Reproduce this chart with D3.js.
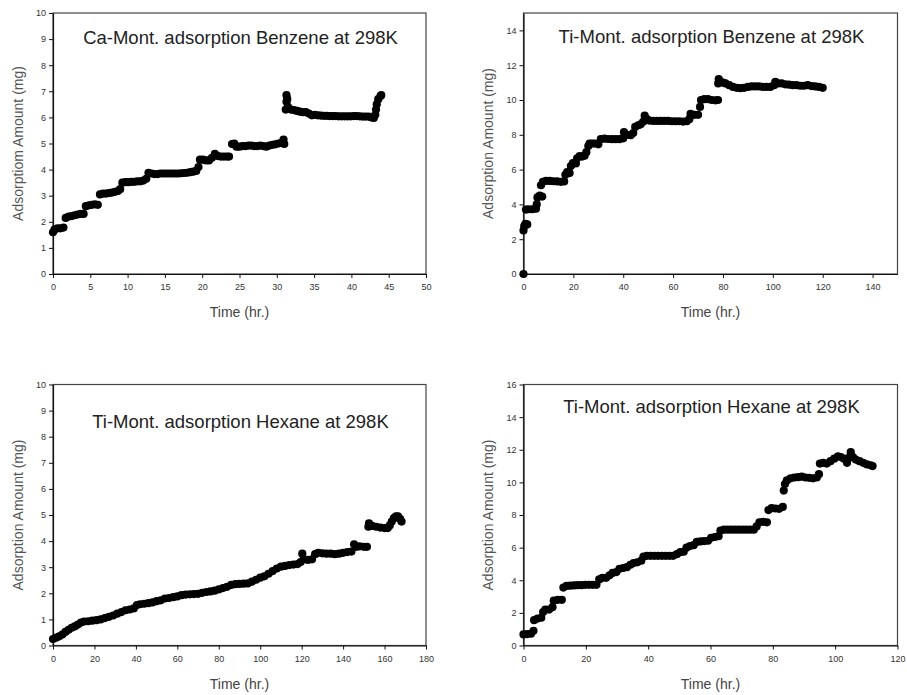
<!DOCTYPE html>
<html>
<head>
<meta charset="utf-8">
<script src="https://cdn.jsdelivr.net/npm/d3@7"></script>
<style>
  body { margin: 0; background: #fff; }
  svg { display: block; font-family: "Liberation Sans", Arial, sans-serif; }
</style>
</head>
<body>
<svg id="chart" width="907" height="695"></svg>
<script>
// [time (hr), amount (mg)]
const caBenzene = [
  [0,1.6],[0.2,1.7],[0.6,1.75],[1.0,1.75],[1.4,1.78],[1.7,2.15],[2.1,2.2],[2.5,2.22],[2.9,2.25],[3.3,2.28],
  [3.7,2.3],[4.1,2.3],[4.4,2.6],[4.8,2.63],[5.2,2.65],[5.6,2.67],[6.0,2.65],[6.3,3.05],[6.7,3.08],[7.1,3.08],
  [7.5,3.1],[7.9,3.12],[8.3,3.15],[8.7,3.18],[9.0,3.25],[9.3,3.5],[9.7,3.52],[10.1,3.52],[10.5,3.53],[10.9,3.53],
  [11.3,3.55],[11.7,3.55],[12.1,3.58],[12.5,3.65],[12.8,3.88],[13.2,3.85],[13.6,3.83],[14.0,3.83],[14.4,3.85],[14.8,3.85],
  [15.2,3.85],[15.6,3.85],[16.0,3.85],[16.4,3.85],[16.8,3.85],[17.2,3.86],[17.6,3.87],[18.0,3.88],[18.4,3.9],[18.8,3.92],
  [19.2,3.95],[19.5,4.1],[19.7,4.38],[20.1,4.38],[20.5,4.35],[20.9,4.35],[21.3,4.45],[21.7,4.6],[22.1,4.52],[22.5,4.5],
  [22.9,4.5],[23.3,4.5],[23.6,4.5],[24.0,4.98],[24.3,5.0],[24.6,4.88],[25.0,4.88],[25.4,4.9],[25.8,4.9],[26.2,4.92],
  [26.6,4.92],[27.0,4.9],[27.4,4.9],[27.8,4.92],[28.2,4.9],[28.6,4.88],[29.0,4.92],[29.4,4.95],[29.8,4.97],[30.2,5.0],
  [30.6,5.02],[30.9,5.15],[31.0,4.98],[31.2,6.3],[31.3,6.6],[31.3,6.85],[31.4,6.7],[31.5,6.4],[31.9,6.3],[32.3,6.28],
  [32.7,6.25],[33.1,6.22],[33.5,6.2],[33.9,6.2],[34.3,6.15],[34.7,6.08],[35.1,6.1],[35.5,6.08],[35.9,6.07],[36.3,6.06],
  [36.7,6.06],[37.1,6.05],[37.5,6.05],[37.9,6.05],[38.3,6.04],[38.7,6.04],[39.1,6.04],[39.5,6.04],[39.9,6.04],[40.3,6.05],
  [40.7,6.05],[41.1,6.04],[41.5,6.03],[41.9,6.03],[42.3,6.03],[42.7,6.0],[43.0,5.98],[43.2,6.1],[43.3,6.3],[43.4,6.5],
  [43.6,6.7],[43.9,6.82],[44.0,6.85]
];

const tiBenzene = [
  [0,0],[0,2.5],[0.3,2.75],[0.8,2.88],[1.5,2.85],[1.0,3.7],[2,3.72],[3.5,3.72],[5,3.75],[5.3,4.0],
  [5.6,4.4],[6.5,4.5],[7.5,4.45],[7,5.1],[7.8,5.3],[9,5.35],[10.5,5.35],[12,5.33],[13.5,5.32],[15,5.3],
  [16.3,5.32],[16.8,5.7],[17.5,5.85],[18.5,5.8],[19,6.2],[19.8,6.38],[21,6.35],[21.5,6.65],[22.5,6.78],[23.5,6.75],
  [24.5,6.8],[25.2,7.0],[26,7.35],[26.5,7.5],[27.5,7.5],[28.5,7.5],[30,7.45],[31,7.75],[32.5,7.78],[34,7.76],
  [35.5,7.75],[37,7.75],[38.5,7.75],[40,7.8],[40.3,8.15],[41.5,8.0],[43,7.98],[44,8.1],[44.8,8.45],[46,8.55],
  [47,8.6],[48,8.75],[48.6,9.1],[49.5,8.9],[50.5,8.82],[52,8.8],[53.5,8.8],[55,8.8],[56.5,8.8],[58,8.8],
  [59.5,8.78],[61,8.78],[62.5,8.78],[64,8.76],[65.5,8.78],[66.5,8.9],[67,9.2],[68.5,9.15],[70,9.15],[70.8,9.6],
  [71.2,10.0],[72.5,10.05],[74,10.05],[75.5,10.0],[77,9.98],[78,10.0],[78.1,10.95],[78.3,11.2],[79,11.05],[80,11.0],
  [81,10.95],[82.5,10.85],[84,10.75],[85.5,10.7],[87,10.68],[88.5,10.7],[90,10.75],[91.5,10.78],[93,10.78],[94.5,10.78],
  [96,10.75],[97.5,10.75],[99,10.75],[100.5,10.85],[101,11.05],[102,10.95],[103.5,10.95],[105,10.9],[106.5,10.88],[108,10.85],
  [109.5,10.85],[111,10.82],[112.5,10.82],[114,10.85],[115.5,10.8],[117,10.78],[118.5,10.75],[120,10.7]
];

const tiHexaneA = [
  [0,0.25],[1.5,0.3],[3,0.35],[4.5,0.42],[6,0.52],[7.5,0.6],[9,0.68],[10.5,0.73],[12,0.8],[13.5,0.88],
  [15,0.92],[17,0.93],[19,0.95],[21,0.97],[23,1.0],[25,1.05],[27,1.1],[29,1.15],[31,1.22],[33,1.28],
  [35,1.35],[37,1.38],[39,1.42],[40.5,1.55],[42,1.58],[44,1.6],[46,1.62],[48,1.65],[50,1.7],[52,1.73],
  [54,1.8],[56,1.82],[58,1.85],[60,1.88],[62,1.93],[64,1.95],[66,1.96],[68,1.97],[70,1.98],[72,2.02],
  [74,2.05],[76,2.07],[78,2.1],[80,2.15],[82,2.2],[84,2.25],[86,2.32],[88,2.35],[90,2.36],[92,2.37],
  [94,2.38],[96,2.45],[98,2.52],[100,2.6],[102,2.65],[104,2.75],[106,2.85],[108,2.95],[110,3.02],[112,3.05],
  [114,3.08],[116,3.1],[118,3.12],[119.5,3.2],[120.3,3.52],[121,3.3],[123,3.28],[125,3.3],[126.5,3.5],[128,3.55],
  [130,3.53],[132,3.52],[134,3.52],[136,3.5],[138,3.52],[140,3.55],[142,3.58],[144,3.6],[145.3,3.88],[146.5,3.78],
  [148,3.8],[150,3.78],[151.5,3.78],[152.2,4.55],[152.5,4.68],[154,4.58],[156,4.55],[158,4.52],[160,4.5],[161.5,4.5],
  [162.5,4.6],[163.5,4.75],[164.5,4.88],[165.5,4.95],[166.5,4.95],[167.5,4.85],[168.2,4.75]
];

const tiHexaneB = [
  [0,0.68],[1.2,0.7],[2.4,0.72],[3.2,0.9],[3.4,1.55],[4.5,1.65],[5.7,1.7],[6.3,2.05],[7,2.2],[8.2,2.2],
  [9.3,2.35],[9.7,2.75],[11,2.8],[12.3,2.8],[12.8,3.55],[13.8,3.65],[15,3.67],[16.2,3.68],[17.4,3.7],[18.6,3.7],
  [19.8,3.72],[21,3.72],[22.2,3.72],[23.4,3.72],[24.3,4.05],[25.3,4.15],[26.5,4.15],[27.6,4.3],[28.6,4.45],[29.8,4.5],
  [30.8,4.7],[32,4.75],[33.2,4.8],[34.3,4.95],[35.3,5.05],[36.5,5.1],[37.8,5.2],[38.5,5.45],[39.6,5.5],[40.8,5.5],
  [42,5.5],[43.2,5.5],[44.4,5.5],[45.6,5.5],[46.8,5.5],[48,5.5],[49.2,5.6],[50.3,5.72],[51.4,5.75],[52.3,6.0],
  [53.4,6.1],[54.6,6.15],[55.6,6.35],[56.8,6.38],[58,6.4],[59.2,6.42],[60.2,6.6],[61.4,6.65],[62.6,6.7],[63.2,7.05],
  [64.3,7.1],[65.5,7.1],[66.7,7.1],[67.9,7.1],[69.1,7.1],[70.3,7.1],[71.5,7.1],[72.7,7.1],[73.9,7.1],[74.8,7.3],
  [75.7,7.55],[76.9,7.58],[78.1,7.55],[78.6,8.3],[79.6,8.42],[80.8,8.4],[82,8.38],[83.2,8.5],[83.5,9.5],[83.9,9.9],
  [84.5,10.12],[85.7,10.25],[86.9,10.3],[88.1,10.32],[89.3,10.35],[90.5,10.3],[91.7,10.28],[92.9,10.25],[94.1,10.3],[94.8,10.5],
  [95.1,11.15],[96.1,11.2],[97.3,11.15],[98.5,11.3],[99.7,11.45],[100.9,11.6],[101.8,11.55],[102.8,11.45],[103.8,11.2],[104.4,11.5],
  [105,11.85],[105.7,11.55],[106.6,11.4],[107.8,11.3],[109,11.2],[110.2,11.1],[111.4,11.05],[112,11.0]
];

// axis ticks per panel
const xTicks1 = [0, 5, 10, 15, 20, 25, 30, 35, 40, 45, 50];
const yTicks1 = [0, 1, 2, 3, 4, 5, 6, 7, 8, 9, 10];
const xTicks2 = [0, 20, 40, 60, 80, 100, 120, 140];
const yTicks2 = [0, 2, 4, 6, 8, 10, 12, 14];
const xTicks3 = [0, 20, 40, 60, 80, 100, 120, 140, 160, 180];
const yTicks3 = [0, 1, 2, 3, 4, 5, 6, 7, 8, 9, 10];
const xTicks4 = [0, 20, 40, 60, 80, 100, 120];
const yTicks4 = [0, 2, 4, 6, 8, 10, 12, 14, 16];

const titles = [
  'Ca-Mont. adsorption Benzene at 298K',
  'Ti-Mont. adsorption Benzene at 298K',
  'Ti-Mont. adsorption Hexane at 298K',
  'Ti-Mont. adsorption Hexane at 298K'
];
const yTitles = [
  'Adsorptiom Amount (mg)',
  'Adsorption Amount (mg)',
  'Adsorption Amount (mg)',
  'Adsorption Amount (mg)'
];
const xTitle = 'Time (hr.)';

const panels = [
  {data: caBenzene, xt: xTicks1, yt: yTicks1, xmax: 50, ymax: 10,
   left: 53, top: 13, width: 373, height: 261, titleY: 44, yTitleX: 18},
  {data: tiBenzene, xt: xTicks2, yt: yTicks2, xmax: 150, ymax: 15,
   left: 523.5, top: 13, width: 374, height: 261, titleY: 43, yTitleX: 488},
  {data: tiHexaneA, xt: xTicks3, yt: yTicks3, xmax: 180, ymax: 10,
   left: 53, top: 384.5, width: 373, height: 261, titleY: 428, yTitleX: 18},
  {data: tiHexaneB, xt: xTicks4, yt: yTicks4, xmax: 120, ymax: 16,
   left: 523.5, top: 384.5, width: 374, height: 261, titleY: 413, yTitleX: 488}
];

const svg = d3.select('#chart');

panels.forEach((p, i) => {
  let x = d3.scaleLinear().domain([0, p.xmax]).range([p.left, p.left + p.width]);
  let y = d3.scaleLinear().domain([0, p.ymax]).range([p.top + p.height, p.top]);
  let g = svg.append('g');

  // frame
  g.append('rect')
    .attr('x', p.left)
    .attr('y', p.top)
    .attr('width', p.width)
    .attr('height', p.height)
    .attr('fill', 'none')
    .attr('stroke', '#444')
    .attr('stroke-width', 1.2);

  let xAxis = g.append('g')
    .attr('transform', `translate(0,${p.top + p.height})`)
    .call(d3.axisBottom(x).tickValues(p.xt).tickSize(4).tickPadding(6).tickSizeOuter(0));
  let yAxis = g.append('g')
    .attr('transform', `translate(${p.left},0)`)
    .call(d3.axisLeft(y).tickValues(p.yt).tickSize(4).tickPadding(3).tickSizeOuter(0));

  [xAxis, yAxis].forEach(a => {
    a.select('.domain').attr('stroke', '#111').attr('stroke-width', 1.2);
    a.selectAll('.tick line').attr('stroke', '#111');
    a.selectAll('.tick text')
      .attr('fill', '#333')
      .style('font-size', '9px')
      .style('font-family', '"Liberation Sans", Arial, sans-serif');
  });

  // points
  g.selectAll('circle')
    .data(p.data)
    .enter()
    .append('circle')
    .attr('cx', d => x(d[0]))
    .attr('cy', d => y(d[1]))
    .attr('r', 4.1)
    .attr('fill', '#000');

  // titles
  g.append('text')
    .attr('x', p.left + p.width / 2 + 1)
    .attr('y', p.titleY)
    .attr('text-anchor', 'middle')
    .attr('fill', '#222')
    .style('font-size', '18.5px')
    .text(titles[i]);

  g.append('text')
    .attr('x', p.left + p.width / 2)
    .attr('y', p.top + p.height + 43)
    .attr('text-anchor', 'middle')
    .attr('fill', '#444')
    .style('font-size', '14px')
    .text(xTitle);

  g.append('text')
    .attr('transform', `translate(${p.yTitleX},${p.top + p.height / 2}) rotate(-90)`)
    .attr('text-anchor', 'middle')
    .attr('dy', '0.35em')
    .attr('fill', '#555')
    .style('font-size', '14px')
    .text(yTitles[i]);
});
</script>
</body>
</html>
